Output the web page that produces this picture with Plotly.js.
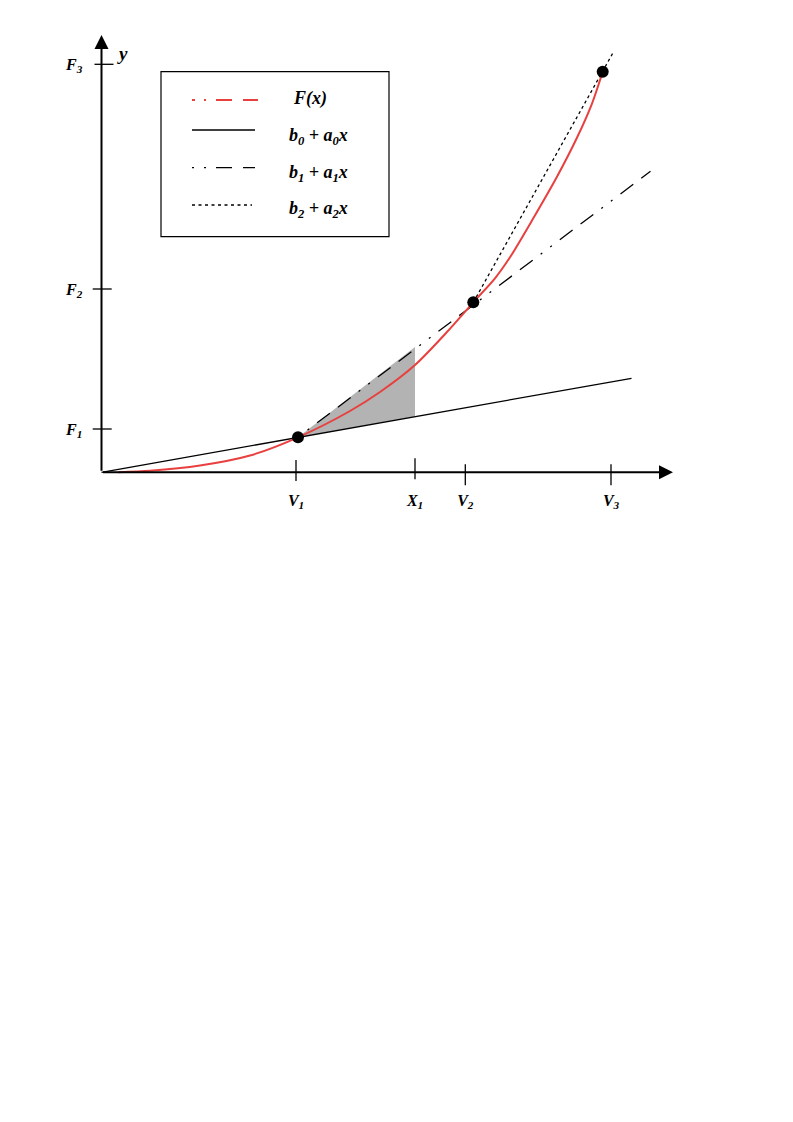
<!DOCTYPE html>
<html>
<head>
<meta charset="utf-8">
<script src="https://cdn.plot.ly/plotly-3.0.1.min.js"></script>
<style>html,body{margin:0;padding:0;background:#fff;}#chart{width:793px;height:1122px;}</style>
</head>
<body>
<div id="chart"></div>
<script>
// ---- data ----
const curveX = [0.17, 0.485, 0.985, 1.485, 1.965, 2.485, 2.785, 3.135, 3.452, 3.718, 3.935, 4.085, 4.318, 4.552, 4.752, 4.902, 5.012];
const curveY = [0.0, 0.015, 0.068, 0.168, 0.35, 0.613, 0.803, 1.073, 1.40, 1.70, 1.94, 2.15, 2.54, 2.95, 3.34, 3.68, 4.006];
const pointsX = [1.965, 3.718, 5.012];
const pointsY = [0.35, 1.70, 4.006];
const line0X = [0, 5.30];       const line0Y = [0, 0.94];
const line1X = [1.965, 5.49];   const line1Y = [0.35, 3.01];
const line2X = [3.718, 5.112];  const line2Y = [1.70, 4.19];
const shadeX = [1.965, 3.135, 3.135, 1.965];
const shadeY = [0.35, 1.253, 0.558, 0.35];
const xTickVals = [1.945, 3.135, 3.638, 5.095];
const xTickText = ['V<sub>1</sub>', 'X<sub>1</sub>', 'V<sub>2</sub>', 'V<sub>3</sub>'];
const yTickVals = [0.433, 1.833, 4.08];
const yTickText = ['F<sub>1</sub>', 'F<sub>2</sub>', 'F<sub>3</sub>'];
const legendNames = ['F(x)', 'b<sub>0</sub> + a<sub>0</sub>x', 'b<sub>1</sub> + a<sub>1</sub>x', 'b<sub>2</sub> + a<sub>2</sub>x'];
const xArrowTip = 5.715, yArrowTip = 4.373;

// ---- styles ----
const RED = '#e8403f';
const DASHDOT = '2px,10px,2px,10px,16px,10px,16px,10px';
const DOTTED = '3px,3px';
const serif = {family: '"Liberation Serif", "Times New Roman", serif', color: '#000', weight: 'bold', style: 'italic'};

// plot area pixel geometry
const L = 40, R = 93, T = 22, B = 600, W = 793, H = 1122;
const PX = p => (p - L) / (W - L - R);
const PY = p => (H - B - p) / (H - T - B);

const traces = [
  {x: shadeX, y: shadeY, type: 'scatter', mode: 'lines', fill: 'toself', fillcolor: '#b3b3b3', line: {width: 0}, hoverinfo: 'skip', showlegend: false},
  {x: line0X, y: line0Y, type: 'scatter', mode: 'lines', line: {color: '#000', width: 1.3}, name: legendNames[1], showlegend: false},
  {x: line1X, y: line1Y, type: 'scatter', mode: 'lines', line: {color: '#000', width: 1.3, dash: DASHDOT}, name: legendNames[2], showlegend: false},
  {x: line2X, y: line2Y, type: 'scatter', mode: 'lines', line: {color: '#000', width: 1.3, dash: DOTTED}, name: legendNames[3], showlegend: false},
  {x: curveX, y: curveY, type: 'scatter', mode: 'lines', line: {color: RED, width: 2, shape: 'spline', smoothing: 0.8}, name: legendNames[0], showlegend: false},
  {x: pointsX, y: pointsY, type: 'scatter', mode: 'markers', marker: {color: '#000', size: 12}, showlegend: false}
];

const shapes = [];
// tick marks crossing the axes
const xTickUp = [12.3, 14, 8, 8], xTickDown = [-8.7, -7, -13, -13];
xTickVals.forEach((v, i) => shapes.push({type: 'line', xref: 'x', yref: 'y', ysizemode: 'pixel', yanchor: 0,
  x0: v, x1: v, y0: xTickDown[i], y1: xTickUp[i], line: {color: '#000', width: 1.3}}));
const yTickLeft = [-8.8, -8.8, -7], yTickRight = [10.2, 10.2, 12];
yTickVals.forEach((v, i) => shapes.push({type: 'line', xref: 'x', yref: 'y', xsizemode: 'pixel', xanchor: 0,
  y0: v, y1: v, x0: yTickLeft[i], x1: yTickRight[i], line: {color: '#000', width: 1.3}}));

// legend box and samples
shapes.push({type: 'rect', xref: 'paper', yref: 'paper', x0: PX(161), x1: PX(389), y0: PY(236.7), y1: PY(71.7), line: {color: '#000', width: 1.2}});
const sampleY = [100, 130, 167.7, 205];
const sampleStyles = [
  {color: RED, width: 2, dash: '3px,9px,2px,10px,16px,11px,16px'},
  {color: '#000', width: 1.3, dash: 'solid'},
  {color: '#000', width: 1.3, dash: '2px,10px,2px,10px,16px,11px,16px'},
  {color: '#000', width: 1.3, dash: '3px,3.5px'}
];
const sampleEnd = [258, 255, 255, 252];
sampleY.forEach((py, i) => shapes.push({type: 'line', xref: 'paper', yref: 'paper', x0: PX(192), x1: PX(sampleEnd[i]), y0: PY(py), y1: PY(py), line: sampleStyles[i]}));

const annotations = [];
// axes with arrowheads
annotations.push({x: xArrowTip, y: 0, ax: 0, ay: 0, xref: 'x', yref: 'y', axref: 'x', ayref: 'y', text: '', showarrow: true,
  arrowhead: 2, arrowsize: 1.4, arrowwidth: 2, arrowcolor: '#000', standoff: 0, startstandoff: 0});
annotations.push({x: 0, y: yArrowTip, ax: 0, ay: 0, xref: 'x', yref: 'y', axref: 'x', ayref: 'y', text: '', showarrow: true,
  arrowhead: 2, arrowsize: 1.4, arrowwidth: 2, arrowcolor: '#000', standoff: 0, startstandoff: 0});
annotations.push({x: PX(122), y: PY(54), xref: 'paper', yref: 'paper', xanchor: 'center', yanchor: 'middle',
  text: 'y', showarrow: false, font: Object.assign({size: 19}, serif)});
// legend labels
const labelY = [98, 136, 173, 209];
const labelX = [291, 287, 287, 287];
legendNames.forEach((t, i) => annotations.push({x: PX(labelX[i]), y: PY(labelY[i]), xref: 'paper', yref: 'paper', xanchor: 'left', yanchor: 'middle',
  text: t, showarrow: false, font: Object.assign({size: 18}, serif)}));

const layout = {
  width: W, height: H,
  margin: {l: L, r: R, t: T, b: B},
  paper_bgcolor: '#fff', plot_bgcolor: '#fff',
  showlegend: false,
  xaxis: {range: [-0.615, 5.985], anchor: 'free', position: PY(472.3), showgrid: false, zeroline: false, showline: false,
    tickmode: 'array', tickvals: xTickVals, ticktext: xTickText, ticks: 'outside', ticklen: 13, tickcolor: 'rgba(0,0,0,0)',
    tickfont: Object.assign({size: 16}, serif), fixedrange: true},
  yaxis: {range: [-0.497, 4.503], anchor: 'free', position: PX(101.5), showgrid: false, zeroline: false, showline: false,
    tickmode: 'array', tickvals: yTickVals, ticktext: yTickText, ticks: 'outside', ticklen: 16, tickcolor: 'rgba(0,0,0,0)',
    tickfont: Object.assign({size: 16}, serif), fixedrange: true},
  shapes: shapes,
  annotations: annotations
};

Plotly.newPlot('chart', traces, layout, {displayModeBar: false, staticPlot: true});
</script>
</body>
</html>
